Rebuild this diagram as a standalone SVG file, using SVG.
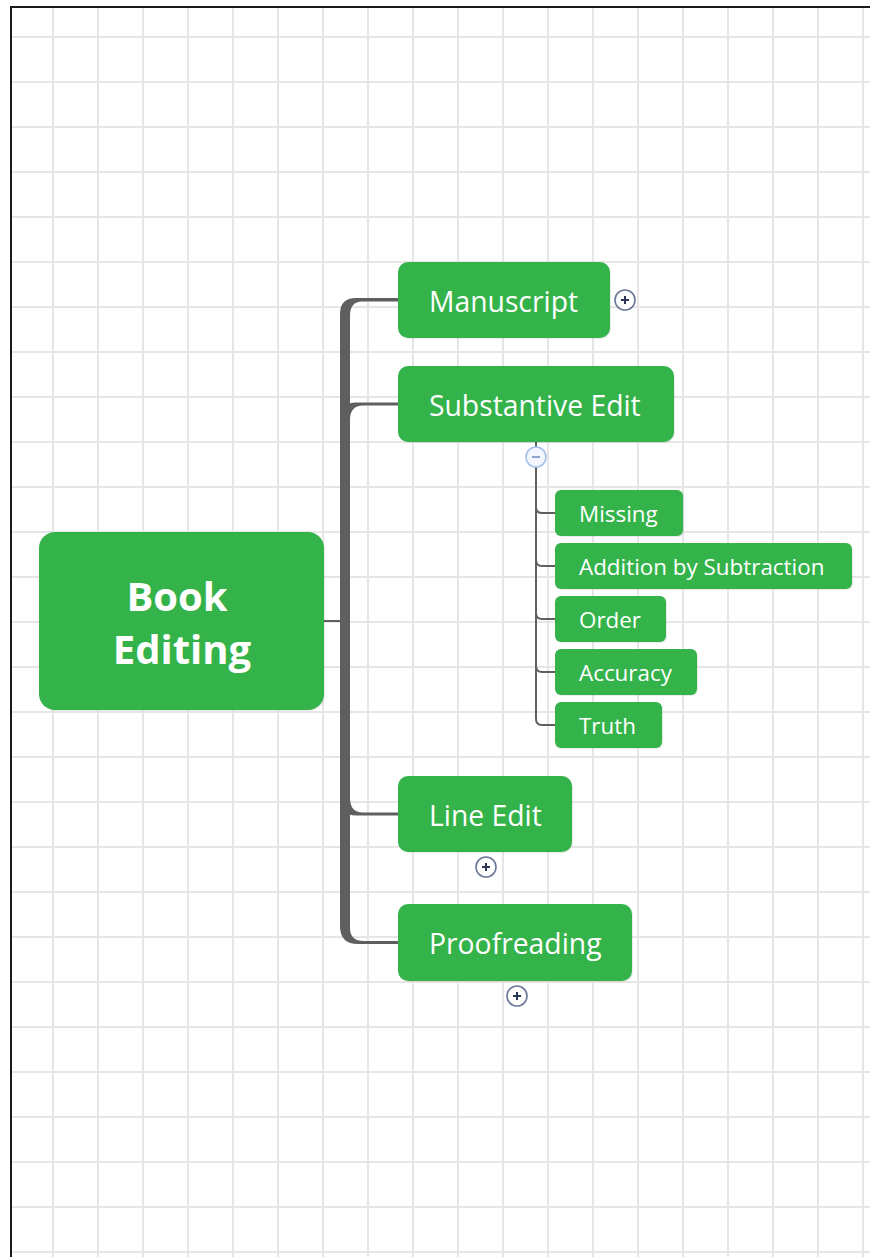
<svg xmlns="http://www.w3.org/2000/svg" width="870" height="1257" viewBox="0 0 870 1257">
<defs>
<style>
.grid line{stroke:#e6e6e6;stroke-width:2}
.node rect.bg{fill:#34b34a}
.node rect.sh{fill:#000;opacity:0.08}
.main text{font-family:"Open Sans","Noto Sans",sans-serif;font-size:28.3px;fill:#fff}
.sub text{font-family:"Open Sans","Noto Sans",sans-serif;font-size:22.4px;fill:#fff}
.root text{font-family:"Open Sans","Noto Sans",sans-serif;font-size:40px;font-weight:bold;fill:#fff;text-anchor:middle}
.thin{fill:none;stroke:#5f5f5f;stroke-width:2}
.bar{fill:#5f5f5f}
.plus circle{fill:#fff;stroke:#6b7898;stroke-width:1.6}
.plus path{stroke:#2b3656;stroke-width:2;fill:none}
.minus circle{fill:#f3f6fd;stroke:#a9c0ee;stroke-width:1.6}
.minus path{stroke:#8fa3cf;stroke-width:2;fill:none}
</style>
</defs>
<rect x="0" y="0" width="870" height="1257" fill="#fff"/>
<g class="grid">
<line x1="53" y1="8" x2="53" y2="1257"/><line x1="98" y1="8" x2="98" y2="1257"/><line x1="143" y1="8" x2="143" y2="1257"/><line x1="188" y1="8" x2="188" y2="1257"/><line x1="233" y1="8" x2="233" y2="1257"/><line x1="278" y1="8" x2="278" y2="1257"/><line x1="323" y1="8" x2="323" y2="1257"/><line x1="368" y1="8" x2="368" y2="1257"/><line x1="413" y1="8" x2="413" y2="1257"/><line x1="458" y1="8" x2="458" y2="1257"/><line x1="503" y1="8" x2="503" y2="1257"/><line x1="548" y1="8" x2="548" y2="1257"/><line x1="593" y1="8" x2="593" y2="1257"/><line x1="638" y1="8" x2="638" y2="1257"/><line x1="683" y1="8" x2="683" y2="1257"/><line x1="728" y1="8" x2="728" y2="1257"/><line x1="773" y1="8" x2="773" y2="1257"/><line x1="818" y1="8" x2="818" y2="1257"/><line x1="863" y1="8" x2="863" y2="1257"/>
<line x1="12" y1="37" x2="870" y2="37"/><line x1="12" y1="82" x2="870" y2="82"/><line x1="12" y1="127" x2="870" y2="127"/><line x1="12" y1="172" x2="870" y2="172"/><line x1="12" y1="217" x2="870" y2="217"/><line x1="12" y1="262" x2="870" y2="262"/><line x1="12" y1="307" x2="870" y2="307"/><line x1="12" y1="352" x2="870" y2="352"/><line x1="12" y1="397" x2="870" y2="397"/><line x1="12" y1="442" x2="870" y2="442"/><line x1="12" y1="487" x2="870" y2="487"/><line x1="12" y1="532" x2="870" y2="532"/><line x1="12" y1="577" x2="870" y2="577"/><line x1="12" y1="622" x2="870" y2="622"/><line x1="12" y1="667" x2="870" y2="667"/><line x1="12" y1="712" x2="870" y2="712"/><line x1="12" y1="757" x2="870" y2="757"/><line x1="12" y1="802" x2="870" y2="802"/><line x1="12" y1="847" x2="870" y2="847"/><line x1="12" y1="892" x2="870" y2="892"/><line x1="12" y1="937" x2="870" y2="937"/><line x1="12" y1="982" x2="870" y2="982"/><line x1="12" y1="1027" x2="870" y2="1027"/><line x1="12" y1="1072" x2="870" y2="1072"/><line x1="12" y1="1117" x2="870" y2="1117"/><line x1="12" y1="1162" x2="870" y2="1162"/><line x1="12" y1="1207" x2="870" y2="1207"/><line x1="12" y1="1252" x2="870" y2="1252"/>
</g>
<path d="M11,1257 V7 H870" fill="none" stroke="#1a1a1a" stroke-width="2"/>

<g id="connectors">
<line class="thin" x1="322" y1="621" x2="345" y2="621"/>
<path class="bar" d="M340,621 V314 Q340,298 356,298 H398 V301.5 H362 Q350,301.5 350,316 V621 Z"/>
<path class="bar" d="M340,621 V418 Q340,402.5 356,402.5 H398 V405.5 H363 Q350,405.5 350,420 V621 Z"/>
<path class="bar" d="M340,621 V800 Q340,815.5 356,815.5 H398 V812.5 H363 Q350,812.5 350,798 V621 Z"/>
<path class="bar" d="M340,621 V926 Q340,944 358,944 H398 V941 H364 Q350,941 350,928 V621 Z"/>
<line class="thin" x1="536" y1="442" x2="536" y2="448"/>
<path class="thin" d="M536,466 V507 Q536,513 542,513 H556"/>
<path class="thin" d="M536,466 V560 Q536,566 542,566 H556"/>
<path class="thin" d="M536,466 V613 Q536,619 542,619 H556"/>
<path class="thin" d="M536,466 V666 Q536,672 542,672 H556"/>
<path class="thin" d="M536,466 V719 Q536,725 542,725 H556"/>
</g>

<g id="node-root" class="node root">
<rect class="sh" x="40" y="533" width="285" height="178" rx="16"/>
<rect class="bg" x="39" y="532" width="285" height="178" rx="16"/>
<text x="177" y="611">Book</text>
<text x="182" y="664">Editing</text>
</g>

<g id="node-manuscript" class="node main">
<rect class="sh" x="399" y="263" width="212" height="76" rx="10"/>
<rect class="bg" x="398" y="262" width="212" height="76" rx="10"/>
<text x="429" y="312">Manuscript</text>
</g>
<g id="toggle-manuscript" class="plus"><circle cx="625" cy="300" r="10"/><path d="M621,300 H629 M625,296 V304"/></g>

<g id="node-substantive" class="node main">
<rect class="sh" x="399" y="367" width="276" height="76" rx="10"/>
<rect class="bg" x="398" y="366" width="276" height="76" rx="10"/>
<text x="429" y="416">Substantive Edit</text>
</g>
<g id="toggle-substantive" class="minus"><circle cx="536" cy="457" r="10"/><path d="M532,457 H540"/></g>

<g id="node-missing" class="node sub">
<rect class="sh" x="556" y="491" width="128" height="46" rx="6"/>
<rect class="bg" x="555" y="490" width="128" height="46" rx="6"/>
<text x="579" y="522">Missing</text>
</g>
<g id="node-addition" class="node sub">
<rect class="sh" x="556" y="544" width="297" height="46" rx="6"/>
<rect class="bg" x="555" y="543" width="297" height="46" rx="6"/>
<text x="579" y="575">Addition by Subtraction</text>
</g>
<g id="node-order" class="node sub">
<rect class="sh" x="556" y="597" width="111" height="46" rx="6"/>
<rect class="bg" x="555" y="596" width="111" height="46" rx="6"/>
<text x="579" y="628">Order</text>
</g>
<g id="node-accuracy" class="node sub">
<rect class="sh" x="556" y="650" width="142" height="46" rx="6"/>
<rect class="bg" x="555" y="649" width="142" height="46" rx="6"/>
<text x="579" y="681">Accuracy</text>
</g>
<g id="node-truth" class="node sub">
<rect class="sh" x="556" y="703" width="107" height="46" rx="6"/>
<rect class="bg" x="555" y="702" width="107" height="46" rx="6"/>
<text x="579" y="734">Truth</text>
</g>

<g id="node-lineedit" class="node main">
<rect class="sh" x="399" y="777" width="174" height="76" rx="10"/>
<rect class="bg" x="398" y="776" width="174" height="76" rx="10"/>
<text x="429" y="826">Line Edit</text>
</g>
<g id="toggle-lineedit" class="plus"><circle cx="486" cy="867" r="10"/><path d="M482,867 H490 M486,863 V871"/></g>

<g id="node-proofreading" class="node main">
<rect class="sh" x="399" y="905" width="234" height="77" rx="10"/>
<rect class="bg" x="398" y="904" width="234" height="77" rx="10"/>
<text x="429" y="954">Proofreading</text>
</g>
<g id="toggle-proofreading" class="plus"><circle cx="517" cy="996" r="10"/><path d="M513,996 H521 M517,992 V1000"/></g>
</svg>
